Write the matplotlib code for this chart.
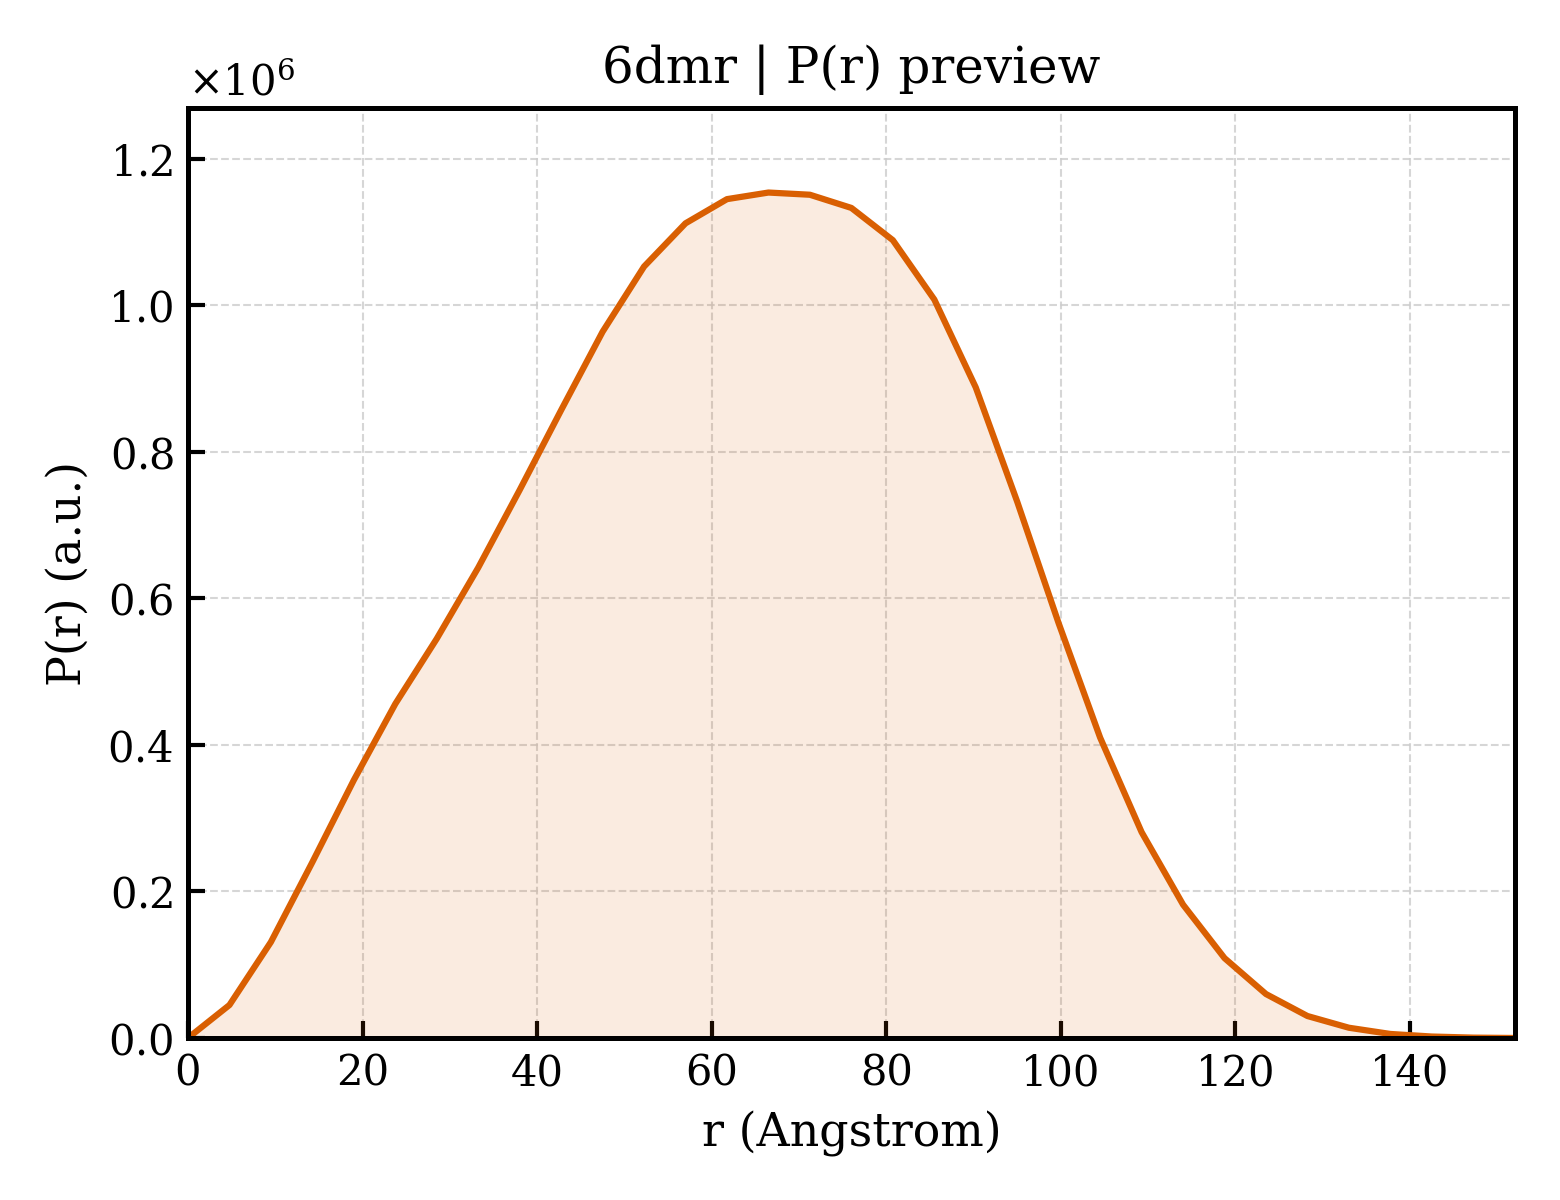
import numpy as np
import matplotlib
matplotlib.use("Agg")
import matplotlib.pyplot as plt

r_values = [0.0, 4.75, 9.5, 14.25, 19.0, 23.75, 28.5, 33.25, 38.0, 42.75, 47.5,
            52.25, 57.0, 61.75, 66.5, 71.25, 76.0, 80.75, 85.5, 90.25, 95.0,
            99.75, 104.5, 109.25, 114.0, 118.75, 123.5, 128.25, 133.0, 137.75,
            142.5, 147.25, 152.0]
pr_values = [0.0, 0.045, 0.131, 0.24, 0.352, 0.456, 0.545, 0.642, 0.748, 0.857, 0.964,
             1.053, 1.112, 1.145, 1.154, 1.151, 1.133, 1.089, 1.008, 0.888, 0.732,
             0.566, 0.41, 0.281, 0.182, 0.109, 0.060, 0.030, 0.014, 0.0055,
             0.002, 0.0005, 0.0]
pr_values = [v * 1e6 for v in pr_values]

title = "6dmr | P(r) preview"
xlabel = "r (Angstrom)"
ylabel = "P(r) (a.u.)"

plt.rcParams['font.family'] = ['DejaVu Serif']
plt.rcParams['mathtext.fontset'] = 'dejavuserif'

fig = plt.figure(figsize=(5.2, 4.0), dpi=300)
ax = fig.add_axes([0.1205, 0.135, 0.8505, 0.775])

color = '#d95f02'
ax.fill_between(r_values, pr_values, 0, color=color, alpha=0.12, linewidth=0)
ax.plot(r_values, pr_values, color=color, linewidth=1.5)

ax.set_xlim(0, 152)
ax.set_ylim(0, max(pr_values) * 1.1)
ax.set_xticks([0, 20, 40, 60, 80, 100, 120, 140])
ax.set_yticks([0, 0.2e6, 0.4e6, 0.6e6, 0.8e6, 1.0e6, 1.2e6])
ax.ticklabel_format(axis='y', style='sci', scilimits=(0, 0), useMathText=True)

ax.grid(True, linestyle='--', linewidth=0.5, color='#cccccc', alpha=0.8)
ax.set_axisbelow(True)
ax.tick_params(direction='in', length=4, width=1.0, labelsize=10)
for s in ax.spines.values():
    s.set_linewidth(1.2)

ax.set_title(title, fontsize=12)
ax.set_xlabel(xlabel, fontsize=11)
ax.set_ylabel(ylabel, fontsize=11)
ax.yaxis.get_offset_text().set_fontsize(10)

fig.savefig("out.png", dpi=300)
